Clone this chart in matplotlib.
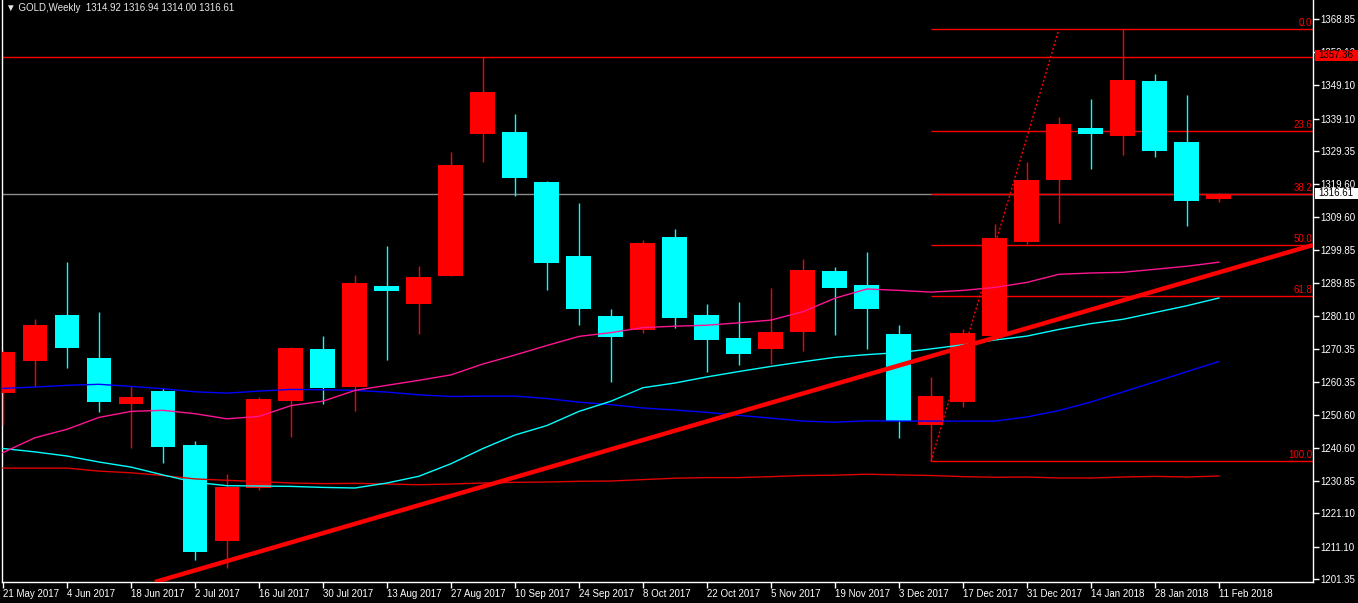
import matplotlib
matplotlib.use('Agg')
import matplotlib.pyplot as plt
from matplotlib.patches import Rectangle
import numpy as np

plt.rcParams['font.family'] = ['Liberation Sans', 'DejaVu Sans']

# ---------------- data (weekly GOLD, 21 May 2017 .. 11 Feb 2018) ----------------
OPEN = [1256.93, 1266.70, 1280.45, 1267.51, 1253.79, 1257.73, 1241.56, 1212.68, 1228.53, 1254.68,
        1270.23, 1258.72, 1289.03, 1283.77, 1292.17, 1334.59, 1335.07, 1320.12, 1298.00, 1280.15,
        1276.00, 1303.68, 1280.45, 1273.58, 1270.23, 1275.40, 1293.58, 1289.33, 1274.68, 1247.63,
        1254.48, 1274.09, 1302.22, 1320.72, 1336.27, 1334.02, 1350.29, 1332.11, 1314.92]
HIGH = [1269.80, 1279.23, 1296.21, 1281.26, 1259.02, 1258.63, 1242.79, 1232.86, 1255.90, 1270.90,
        1274.09, 1292.35, 1301.05, 1295.10, 1329.12, 1357.36, 1340.45, 1320.40, 1313.88, 1282.16,
        1302.80, 1306.10, 1283.68, 1284.28, 1288.44, 1297.10, 1294.77, 1299.23, 1277.40, 1261.86,
        1276.18, 1307.57, 1326.04, 1339.58, 1344.93, 1365.86, 1352.41, 1346.16, 1316.94]
LOW = [1247.48, 1258.84, 1264.40, 1251.25, 1240.75, 1236.00, 1207.03, 1204.61, 1228.00, 1243.77,
       1253.88, 1251.55, 1267.00, 1274.80, 1292.00, 1326.19, 1315.79, 1287.93, 1277.52, 1260.45,
       1275.10, 1276.60, 1263.47, 1265.30, 1265.81, 1269.75, 1274.47, 1270.23, 1243.47, 1236.60,
       1252.77, 1273.50, 1301.50, 1307.87, 1324.13, 1328.28, 1327.48, 1307.06, 1314.00]
CLOSE = [1269.42, 1277.40, 1270.56, 1254.39, 1255.91, 1241.05, 1209.63, 1229.04, 1255.28, 1270.56,
         1258.42, 1289.93, 1287.63, 1291.75, 1325.17, 1347.00, 1321.44, 1296.00, 1282.28, 1273.67,
         1301.95, 1279.35, 1272.77, 1268.82, 1275.28, 1293.88, 1288.32, 1282.28, 1248.74, 1256.21,
         1274.98, 1303.44, 1320.72, 1337.46, 1334.53, 1350.61, 1329.48, 1314.53, 1316.61]

# moving averages
MA_PINK = [1239.23, 1243.68, 1246.20, 1249.75, 1251.55, 1251.87, 1250.86, 1249.33, 1250.05, 1253.28,
           1254.60, 1257.82, 1259.35, 1260.84, 1262.46, 1265.72, 1268.41, 1271.25, 1273.97, 1275.10,
           1276.60, 1277.02, 1277.31, 1278.03, 1278.84, 1281.35, 1285.39, 1288.14, 1287.72, 1287.21,
           1287.72, 1288.61, 1290.11, 1292.53, 1292.92, 1293.13, 1294.03, 1294.95, 1296.15]
MA_CYAN = [1240.46, 1239.44, 1238.21, 1236.42, 1234.90, 1232.56, 1230.35, 1229.34, 1229.25, 1229.13,
           1228.83, 1228.65, 1230.14, 1232.17, 1235.91, 1240.46, 1244.49, 1247.33, 1251.55, 1254.60,
           1258.63, 1260.04, 1261.86, 1263.47, 1265.00, 1266.40, 1267.72, 1268.53, 1269.12, 1270.23,
           1271.46, 1272.89, 1274.06, 1276.06, 1277.79, 1279.08, 1281.11, 1283.14, 1285.45]
MA_BLUE = [1258.42, 1258.84, 1259.35, 1259.65, 1259.02, 1258.33, 1257.40, 1257.02, 1257.61, 1258.12,
           1258.03, 1257.82, 1257.31, 1256.51, 1256.00, 1256.12, 1256.12, 1255.40, 1254.30, 1253.58,
           1252.56, 1251.96, 1251.25, 1250.35, 1249.54, 1248.65, 1248.32, 1248.74, 1248.65, 1248.65,
           1248.65, 1248.65, 1249.90, 1251.81, 1254.36, 1257.37, 1260.39, 1263.44, 1266.46]
MA_RED = [1234.60, 1234.60, 1234.60, 1233.70, 1233.19, 1232.38, 1231.37, 1230.95, 1230.56, 1230.14,
          1229.96, 1230.05, 1229.84, 1229.63, 1229.84, 1230.14, 1230.35, 1230.44, 1230.65, 1230.74,
          1231.16, 1231.58, 1231.76, 1231.76, 1232.05, 1232.38, 1232.47, 1232.77, 1232.56, 1232.38,
          1232.05, 1231.85, 1231.94, 1231.64, 1231.64, 1231.94, 1232.12, 1231.94, 1232.24]

DATE_LABELS = ['21 May 2017', '4 Jun 2017', '18 Jun 2017', '2 Jul 2017', '16 Jul 2017',
               '30 Jul 2017', '13 Aug 2017', '27 Aug 2017', '10 Sep 2017', '24 Sep 2017',
               '8 Oct 2017', '22 Oct 2017', '5 Nov 2017', '19 Nov 2017', '3 Dec 2017',
               '17 Dec 2017', '31 Dec 2017', '14 Jan 2018', '28 Jan 2018', '11 Feb 2018']
YTICKS = [1368.85, 1359.10, 1349.10, 1339.10, 1329.35, 1319.60, 1309.60, 1299.85, 1289.85,
          1280.10, 1270.35, 1260.35, 1250.60, 1240.60, 1230.85, 1221.10, 1211.10, 1201.35]

HLINE_PRICE = 1357.36
BID = 1316.61
FIB_LOW, FIB_HIGH = 1236.60, 1365.86
FIB_X = [29, 33]
FIB_LEVELS = [0.0, 23.6, 38.2, 50.0, 61.8, 100.0]
TREND_X = [4.75, 40.94]
TREND_Y = [1200.55, 1301.29]
TITLE = "\u25bc GOLD,Weekly  1314.92 1316.94 1314.00 1316.61"

# ---------------- figure ----------------
W, H = 1358, 603
fig = plt.figure(figsize=(W / 100, H / 100), dpi=100, facecolor='black')
ax = fig.add_axes([2 / W, 21 / H, 1311 / W, 582 / H], facecolor='black')
XMIN, XMAX = -0.031, 40.94
YMIN, YMAX = 1200.55, 1374.53
ax.set_xlim(XMIN, XMAX)
ax.set_ylim(YMIN, YMAX)

RED = '#FF0000'
CYAN = '#00FFFF'
o = np.array(OPEN); c = np.array(CLOSE); hi = np.array(HIGH); lo = np.array(LOW)
x = np.arange(len(o))
cols = np.where(c >= o, RED, CYAN)

# horizontal lines
ax.axhline(HLINE_PRICE, color=RED, lw=1, zorder=1)
ax.axhline(BID, color='#8C8C8C', lw=1, zorder=1)

# fibonacci
rng = FIB_HIGH - FIB_LOW
for lev in FIB_LEVELS:
    p = FIB_HIGH - lev / 100.0 * rng
    ax.hlines(p, FIB_X[0], XMAX, color=RED, lw=1, zorder=1)
    ax.text(XMAX - 0.03, p + 0.35, f'{lev:.1f}', color=RED, fontsize=7,
            ha='right', va='bottom', zorder=6)
ax.plot(FIB_X, [FIB_LOW, FIB_HIGH], color=RED, lw=1, ls=(0, (1.5, 1.5)), zorder=6)

# candles
ax.vlines(x, lo, hi, colors=cols, lw=1, zorder=3)
bottoms = np.minimum(o, c)
heights = np.maximum(np.abs(c - o), 0.35)
ax.bar(x, heights, bottom=bottoms, width=0.78, color=cols, linewidth=0, zorder=4)

# moving averages
ax.plot(x, MA_RED, color='#E00000', lw=1, zorder=5)
ax.plot(x, MA_BLUE, color='#0000FF', lw=1, zorder=5)
ax.plot(x, MA_CYAN, color=CYAN, lw=1, zorder=5)
ax.plot(x, MA_PINK, color='#FF1493', lw=1, zorder=5)

# trend line
ax.plot(TREND_X, TREND_Y, color=RED, lw=3.2, solid_capstyle='butt', zorder=7)

# axes styling
for s in ['left', 'right', 'bottom']:
    ax.spines[s].set_color('white')
    ax.spines[s].set_linewidth(1)
ax.spines['top'].set_visible(False)

ax.yaxis.tick_right()
ax.set_yticks(YTICKS)
ax.set_yticklabels([f'{v:.2f}' for v in YTICKS])
ax.tick_params(axis='y', colors='white', direction='out', length=4, width=1,
               pad=1.5, labelsize=7)
ax.set_xticks(np.arange(0, len(o), 2))
ax.set_xticklabels(DATE_LABELS, ha='left')
ax.tick_params(axis='x', colors='white', direction='out', length=4, width=1,
               pad=1, labelsize=7)

# price boxes on the right scale (drawn at figure level so they cover the tick label)
fig.canvas.draw()
def price_box(price, face, lift):
    _, yd = ax.transData.transform((0, price))
    yf = (yd + lift) / H
    fig.add_artist(Rectangle((1315 / W, yf - 5.5 / H), (W - 1315) / W, 11 / H,
                             transform=fig.transFigure, facecolor=face,
                             edgecolor='none', zorder=20))
    fig.text(1318 / W, yf, f'{price:.2f}', color='black', fontsize=7,
             ha='left', va='center', zorder=21)

price_box(HLINE_PRICE, RED, 2.0)
price_box(BID, 'white', 0.5)

fig.text(6 / W, 1 - 8 / H, TITLE, color='#E8E8E8', fontsize=7, ha='left', va='center')

fig.savefig('out.png', dpi=100, facecolor='black')
